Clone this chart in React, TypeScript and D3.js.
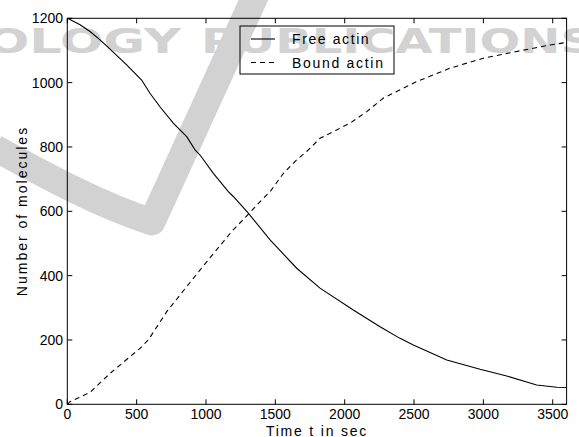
import React from "react";
import * as d3 from "d3";

const freeTimes = [0, 19, 92, 164, 236, 308, 428, 536, 596, 668, 764, 861, 921, 957, 1053, 1161, 1197, 1305, 1462, 1654, 1822, 2062, 2255, 2399, 2495, 2736, 2976, 3168, 3384, 3529, 3600];
const freeValues = [1200, 1196, 1180, 1159, 1133, 1104, 1055, 1008, 967, 925, 874, 832, 791, 775, 718, 661, 646, 594, 511, 423, 361, 293, 241, 205, 184, 138, 109, 88, 60, 53, 52];

const boundTimes = [0, 19, 164, 308, 524, 584, 717, 861, 1005, 1185, 1312, 1390, 1462, 1558, 1654, 1726, 1822, 1942, 2039, 2159, 2279, 2519, 2760, 3000, 3240, 3481, 3600];
const boundValues = [0, 8, 37, 96, 174, 200, 288, 366, 443, 537, 594, 630, 661, 718, 760, 786, 827, 853, 874, 910, 952, 1003, 1045, 1076, 1097, 1117, 1125];

const xTicks = [0, 500, 1000, 1500, 2000, 2500, 3000, 3500];
const yTicks = [0, 200, 400, 600, 800, 1000, 1200];
const seriesNames = ["Free actin", "Bound actin"];

export default function App() {
  const W = 579, H = 437;
  const x = d3.scaleLinear().domain([0, 3600]).range([67.3, 566.6]);
  const y = d3.scaleLinear().domain([0, 1200]).range([404.3, 18.3]);
  const line = d3.line<[number, number]>().x(d => x(d[0])).y(d => y(d[1]));
  const freeData = freeTimes.map((t, i) => [t, freeValues[i]] as [number, number]);
  const boundData = boundTimes.map((t, i) => [t, boundValues[i]] as [number, number]);
  const font = "'Liberation Sans', Arial, Helvetica, sans-serif";
  const wm = "#d2d2d2";
  const [x0, x1] = x.range();
  const [yb, yt] = y.range();
  return (
    <svg width={W} height={H} style={{ position: "absolute", left: 0, top: 0, background: "#fff" }}>
      {/* watermark */}
      <g fill={wm} fontFamily="'DejaVu Sans', sans-serif" fontWeight="bold" fontSize={34}>
        <text x={-14} y={53} textLength={195} lengthAdjust="spacingAndGlyphs">OLOGY</text>
        <text x={201} y={53} textLength={394} lengthAdjust="spacingAndGlyphs">PUBLICATIONS</text>
      </g>
      <path d="M -5 148 C 50 178, 100 205, 152 222 L 258 -10" fill="none" stroke={wm} strokeWidth={27} strokeLinejoin="round" />
      {/* curves */}
      <path d={line(freeData) || ""} fill="none" stroke="#000" strokeWidth={1.1} />
      <path d={line(boundData) || ""} fill="none" stroke="#000" strokeWidth={1.1} strokeDasharray="5,4" />
      {/* frame */}
      <rect x={x0} y={yt} width={x1 - x0} height={yb - yt} fill="none" stroke="#000" strokeWidth={1} />
      {xTicks.map(t => (
        <g key={"x" + t}>
          <line x1={x(t)} x2={x(t)} y1={yb} y2={yb - 5} stroke="#000" />
          <line x1={x(t)} x2={x(t)} y1={yt} y2={yt + 5} stroke="#000" />
          <text x={x(t)} y={419} textAnchor="middle" fontFamily={font} fontSize={14} fill="#000">{t}</text>
        </g>
      ))}
      {yTicks.map(v => (
        <g key={"y" + v}>
          <line x1={x0} x2={x0 + 5} y1={y(v)} y2={y(v)} stroke="#000" />
          <line x1={x1} x2={x1 - 5} y1={y(v)} y2={y(v)} stroke="#000" />
          <text x={63} y={y(v) + 5} textAnchor="end" fontFamily={font} fontSize={14} fill="#000">{v}</text>
        </g>
      ))}
      {/* axis labels */}
      <text x={317} y={436} textAnchor="middle" fontFamily={font} fontSize={14} letterSpacing={1.8} fill="#000">Time t in sec</text>
      <text transform="translate(26.5,211) rotate(-90)" textAnchor="middle" fontFamily={font} fontSize={14} letterSpacing={2} fill="#000">Number of molecules</text>
      {/* legend */}
      <rect x={240} y={26} width={154} height={48} fill="none" stroke="#000" strokeWidth={1} />
      <line x1={251} x2={275} y1={39} y2={39} stroke="#000" strokeWidth={1.1} />
      <line x1={251} x2={275} y1={62.5} y2={62.5} stroke="#000" strokeWidth={1.1} strokeDasharray="5,4" />
      <text x={292} y={44} fontFamily={font} fontSize={14} letterSpacing={1.6} fill="#000">{seriesNames[0]}</text>
      <text x={292} y={67.5} fontFamily={font} fontSize={14} letterSpacing={1.7} fill="#000">{seriesNames[1]}</text>
    </svg>
  );
}
